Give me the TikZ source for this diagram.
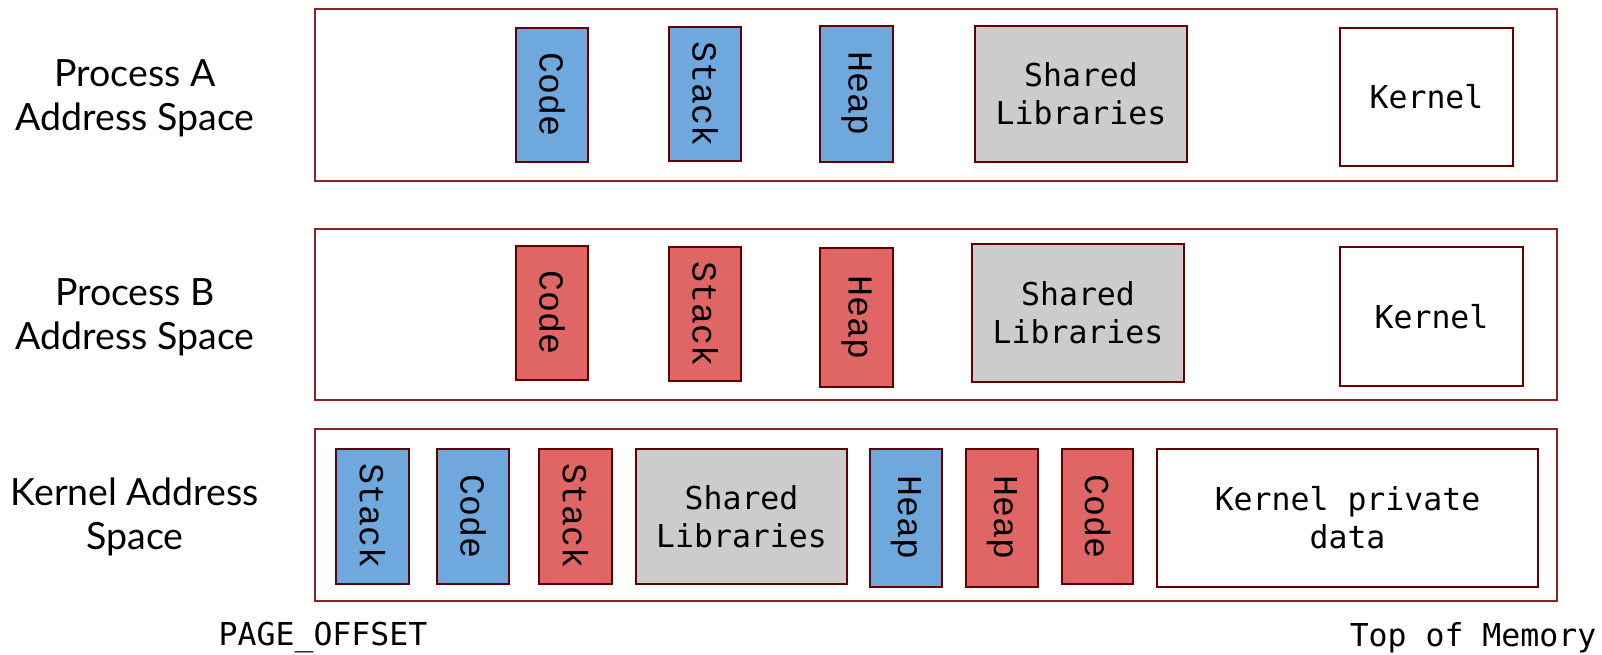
\documentclass[tikz,border=0pt]{standalone}
\usepackage{fontspec}
\setmainfont{Lato}
\newfontfamily\boxmono{DejaVu Sans Mono}
\newfontfamily\segmono{Liberation Mono}
\definecolor{segline}{HTML}{660000}
\definecolor{spaceline}{HTML}{8B2323}
\definecolor{procA}{HTML}{6FA8DC}
\definecolor{procB}{HTML}{E06666}
\definecolor{shared}{HTML}{CCCCCC}
\tikzset{
  space/.style={draw=spaceline, line width=1.4pt, fill=white},
  seg/.style={draw=segline, line width=1.8pt, inner sep=0pt, outer sep=0pt, align=center},
  vseg/.style={seg, rotate=-90, font=\segmono\fontsize{35}{38}\selectfont},
  hseg/.style={seg, font=\boxmono\fontsize{31.5}{38}\selectfont},
  side/.style={align=center, font=\fontsize{37.5}{44}\selectfont},
  mark text/.style={font=\boxmono\fontsize{31.5}{38}\selectfont},
}
\begin{document}
\begin{tikzpicture}[x=1pt, y=-1pt]
\useasboundingbox (0,0) rectangle (1602,655);

% address spaces
\draw[space] (315,9) rectangle (1557,181);
\draw[space] (315,229) rectangle (1557,400);
\draw[space] (315,429) rectangle (1557,601);

% labels on the left
\node[side] (labA) at (135,98) {Process A\\Address Space};
\node[side] (labB) at (135,317) {Process B\\Address Space};
\node[side] (labK) at (135,517) {Kernel Address\\Space};

% process A
\node[vseg, fill=procA, minimum width=134, minimum height=72] (aCode) at (552,95) {Code};
\node[vseg, fill=procA, minimum width=134, minimum height=72] (aStack) at (705,94) {Stack};
\node[vseg, fill=procA, minimum width=136, minimum height=73] (aHeap) at (856.5,94) {Heap};
\node[hseg, fill=shared, minimum width=212, minimum height=136] (aLib) at (1081,94) {Shared\\Libraries};
\node[hseg, fill=white, minimum width=173, minimum height=138] (aKern) at (1426.5,97) {Kernel};

% process B
\node[vseg, fill=procB, minimum width=134, minimum height=72] (bCode) at (552,313) {Code};
\node[vseg, fill=procB, minimum width=134, minimum height=72] (bStack) at (705,314) {Stack};
\node[vseg, fill=procB, minimum width=139, minimum height=73] (bHeap) at (856.5,317.5) {Heap};
\node[hseg, fill=shared, minimum width=212, minimum height=138] (bLib) at (1078,313) {Shared\\Libraries};
\node[hseg, fill=white, minimum width=183, minimum height=139] (bKern) at (1431.5,316.5) {Kernel};

% kernel
\node[vseg, fill=procA, minimum width=135, minimum height=73] (kStackA) at (372.5,516.5) {Stack};
\node[vseg, fill=procA, minimum width=135, minimum height=72] (kCodeA) at (473,516.5) {Code};
\node[vseg, fill=procB, minimum width=135, minimum height=73] (kStackB) at (575.5,516.5) {Stack};
\node[hseg, fill=shared, minimum width=211, minimum height=135] (kLib) at (741.5,516.5) {Shared\\Libraries};
\node[vseg, fill=procA, minimum width=138, minimum height=72] (kHeapA) at (906,518) {Heap};
\node[vseg, fill=procB, minimum width=138, minimum height=72] (kHeapB) at (1002,518) {Heap};
\node[vseg, fill=procB, minimum width=135, minimum height=71] (kCodeB) at (1097.5,516.5) {Code};
\node[hseg, fill=white, minimum width=381, minimum height=138] (kPriv) at (1347.5,518) {Kernel private\\data};

% address markers
\node[mark text] (pageoff) at (323,638) {PAGE\_OFFSET};
\node[mark text] (topmem) at (1473,638) {Top of Memory};
\end{tikzpicture}
\end{document}
